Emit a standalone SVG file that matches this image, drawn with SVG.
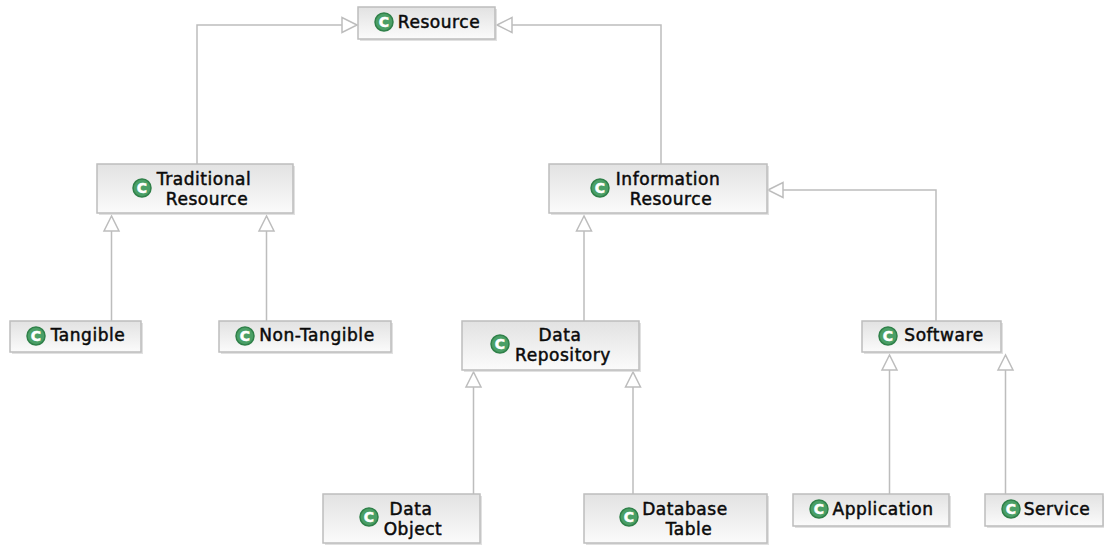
<svg xmlns="http://www.w3.org/2000/svg" width="1104" height="547" viewBox="0 0 1104 547">
<style>
.b{fill:url(#g);stroke:#bdbdbd;stroke-width:1.5}
.s{fill:#d4d4d4;opacity:.7}
.t{font-family:"DejaVu Sans",sans-serif;font-size:17px;letter-spacing:.55px;fill:#0a0a0a;text-anchor:middle;stroke:#0a0a0a;stroke-width:.5}
.i{fill:#4a9f66;stroke:#2f8049;stroke-width:1.5}
.c{font-family:"DejaVu Sans",sans-serif;font-size:14px;font-weight:bold;fill:#fff;stroke:#fff;stroke-width:.5;text-anchor:middle}
.l{fill:none;stroke:#bdbdbd;stroke-width:1.5}
.a{fill:#fff;stroke:#bdbdbd;stroke-width:1.5}
</style>
<defs>
<linearGradient id="g" x1="0" y1="0" x2="0" y2="1"><stop offset="0" stop-color="#e2e2e2"/><stop offset="1" stop-color="#fbfbfb"/></linearGradient>
<symbol id="k" overflow="visible"><circle class="i" cx="0" cy="0" r="9"/><text class="c" x="0" y="5">C</text></symbol>
</defs>
<g id="connectors">
<path class="l" d="M197 164V25H342M661 164V25H512M111.500 321V231M266.500 321V231M584 321V231M936 321V190H783M473.500 494V387M633 494V387M889.500 494V370M1005.500 494V370"/>
<path class="a" d="M357 25L342 17.500V32.500ZM497 25L512 17.500V32.500ZM768 190L783 182.500V197.500ZM111.500 216L104 231H119ZM266.500 216L259 231H274ZM584 216L576.500 231H591.500ZM473.500 372L466 387H481ZM633 372L625.500 387H640.500ZM889.500 355L882 370H897ZM1005.500 355L998 370H1013Z"/>
</g>
<g id="resource"><rect class="s" x="360" y="9" width="137" height="32"/><rect class="b" x="358" y="7" width="137" height="32"/><use href="#k" x="384" y="22"/><text class="t" x="439" y="28">Resource</text></g>
<g id="traditional-resource"><rect class="s" x="99" y="166" width="196" height="49"/><rect class="b" x="97" y="164" width="196" height="49"/><use href="#k" x="142" y="188"/><text class="t" x="204" y="185">Traditional</text><text class="t" x="207" y="205">Resource</text></g>
<g id="information-resource"><rect class="s" x="551" y="166" width="218" height="49"/><rect class="b" x="549" y="164" width="218" height="49"/><use href="#k" x="600" y="188"/><text class="t" x="668" y="185">Information</text><text class="t" x="671" y="205">Resource</text></g>
<g id="tangible"><rect class="s" x="12" y="323" width="131" height="31"/><rect class="b" x="10" y="321" width="131" height="31"/><use href="#k" x="36" y="336"/><text class="t" x="88" y="341">Tangible</text></g>
<g id="non-tangible"><rect class="s" x="221" y="323" width="172" height="31"/><rect class="b" x="219" y="321" width="172" height="31"/><use href="#k" x="245" y="336"/><text class="t" x="317" y="341">Non-Tangible</text></g>
<g id="data-repository"><rect class="s" x="464" y="323" width="177" height="49"/><rect class="b" x="462" y="321" width="177" height="49"/><use href="#k" x="500" y="344"/><text class="t" x="560" y="341">Data</text><text class="t" x="563" y="361">Repository</text></g>
<g id="software"><rect class="s" x="864" y="323" width="139" height="31"/><rect class="b" x="862" y="321" width="139" height="31"/><use href="#k" x="888" y="336"/><text class="t" x="944" y="341">Software</text></g>
<g id="data-object"><rect class="s" x="325" y="496" width="157" height="49"/><rect class="b" x="323" y="494" width="157" height="49"/><use href="#k" x="369" y="517"/><text class="t" x="411" y="514.500">Data</text><text class="t" x="413" y="534.500">Object</text></g>
<g id="database-table"><rect class="s" x="586" y="496" width="183" height="49"/><rect class="b" x="584" y="494" width="183" height="49"/><use href="#k" x="629" y="517"/><text class="t" x="685" y="514.500">Database</text><text class="t" x="689" y="534.500">Table</text></g>
<g id="application"><rect class="s" x="795" y="496" width="156" height="32"/><rect class="b" x="793" y="494" width="156" height="32"/><use href="#k" x="819" y="509"/><text class="t" x="883" y="514.500">Application</text></g>
<g id="service"><rect class="s" x="987" y="496" width="117" height="32"/><rect class="b" x="985" y="494" width="118" height="32"/><use href="#k" x="1011" y="509"/><text class="t" x="1057" y="514.500">Service</text></g>
</svg>
